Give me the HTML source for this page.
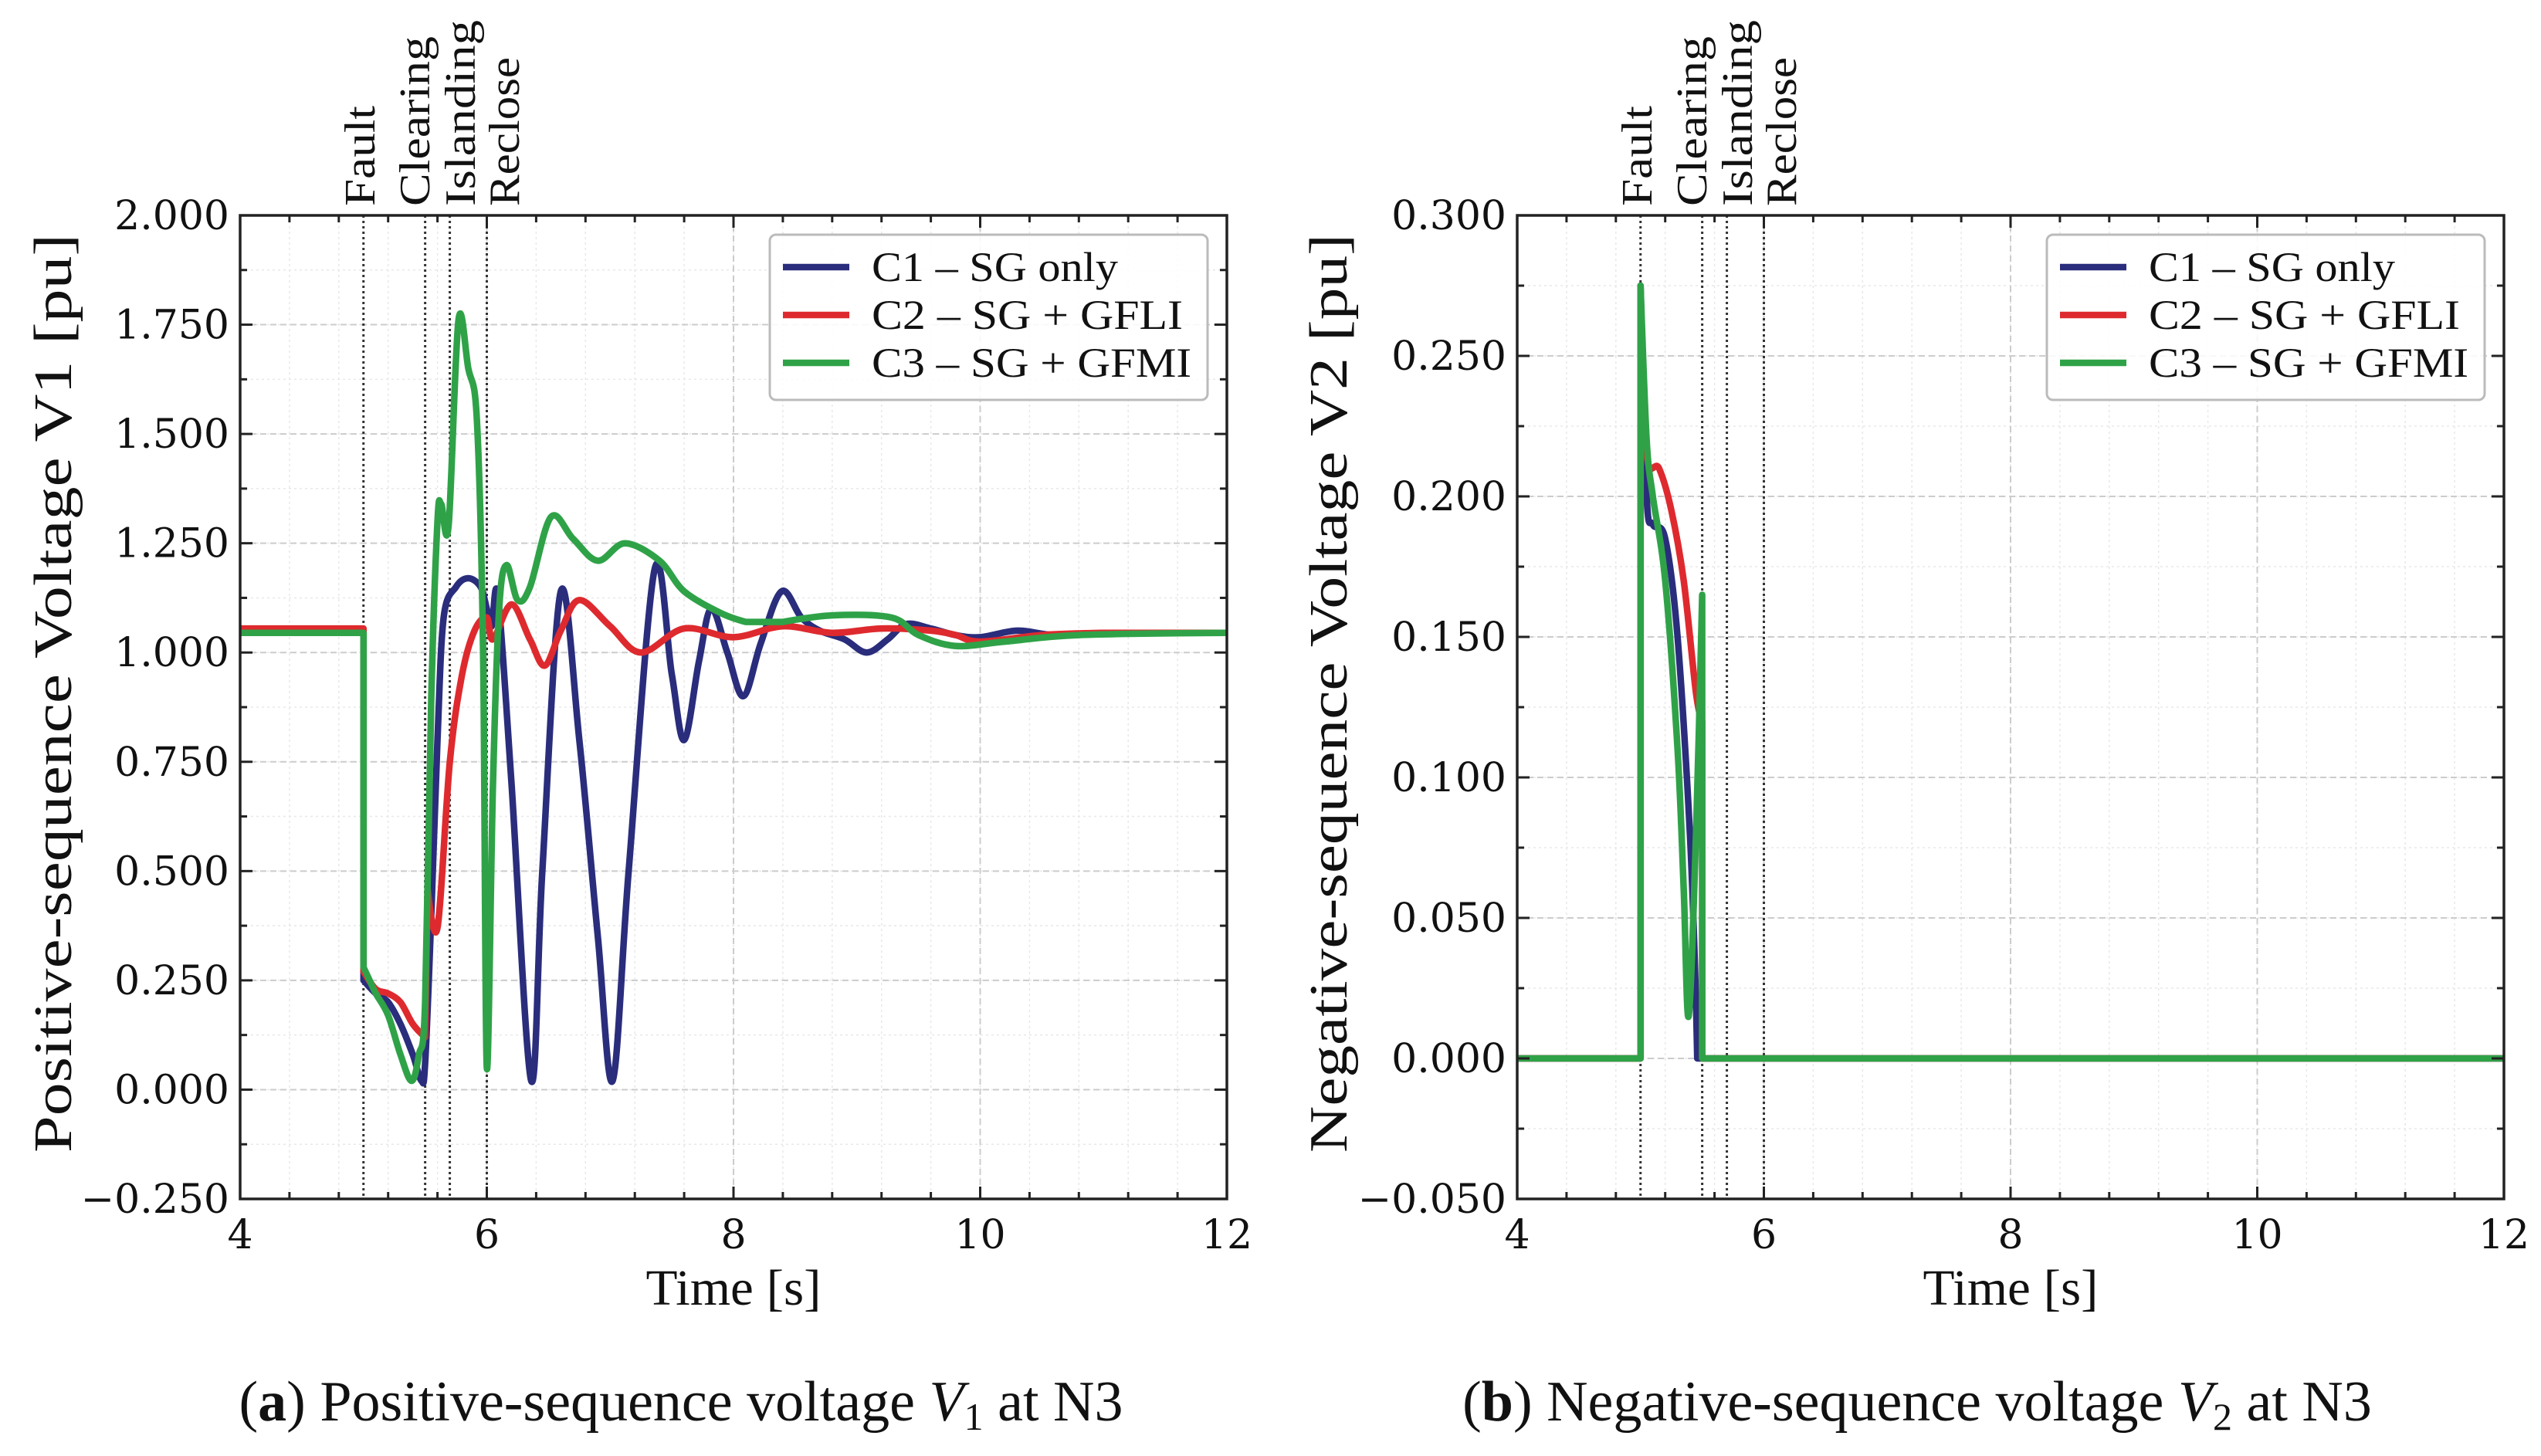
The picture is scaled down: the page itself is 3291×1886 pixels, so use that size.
<!DOCTYPE html>
<html><head><meta charset="utf-8"><style>
html,body{margin:0;padding:0;background:#fff;}
svg{display:block;font-family:"Liberation Serif","DejaVu Serif",serif;}
.num{font-family:"DejaVu Serif","Liberation Serif",serif;}
</style></head><body>
<svg id="fig" width="3291" height="1886" viewBox="0 0 3291 1886" xmlns="http://www.w3.org/2000/svg"></svg>
<script>
// ---- data ----
const xTicks = [4, 6, 8, 10, 12];
const v1Ticks = [-0.25, 0, 0.25, 0.5, 0.75, 1.0, 1.25, 1.5, 1.75, 2.0];
const v2Ticks = [-0.05, 0, 0.05, 0.1, 0.15, 0.2, 0.25, 0.3];
const eventTimes = [5.0, 5.5, 5.7, 6.0];
const eventNames = ["Fault", "Clearing", "Islanding", "Reclose"];
const seriesNames = ["C1 – SG only", "C2 – SG + GFLI", "C3 – SG + GFMI"];

const v1C1t = [4,5.0,5.0,5.1,5.2,5.3,5.4,5.47,5.5,5.55,5.6,5.65,5.75,5.85,5.95,6.0,6.04,6.09,6.2,6.36,6.45,6.6,6.75,6.9,7.02,7.15,7.36,7.5,7.6,7.72,7.82,7.95,8.08,8.22,8.39,8.55,8.7,8.9,9.08,9.25,9.4,9.6,9.8,10.0,10.3,10.6,11,12];
const v1C1v = [1.045,1.045,0.25,0.22,0.2,0.15,0.08,0.02,0.06,0.4,0.8,1.08,1.15,1.17,1.15,1.1,1.06,1.13,0.7,0.02,0.5,1.14,0.8,0.35,0.02,0.5,1.19,0.95,0.8,0.98,1.1,1.0,0.9,1.02,1.14,1.08,1.05,1.03,1.0,1.03,1.065,1.055,1.04,1.035,1.05,1.04,1.045,1.045];
const v1C2t = [4,5.0,5.0,5.1,5.2,5.3,5.4,5.5,5.52,5.6,5.7,5.8,5.9,6.0,6.05,6.2,6.35,6.47,6.6,6.75,7.0,7.25,7.6,8.0,8.4,8.8,9.2,9.6,9.8,10.0,10.5,11,12];
const v1C2v = [1.055,1.055,0.27,0.23,0.22,0.2,0.15,0.12,0.46,0.37,0.75,0.95,1.05,1.08,1.03,1.11,1.03,0.97,1.05,1.12,1.06,1.0,1.055,1.035,1.06,1.045,1.055,1.05,1.04,1.025,1.04,1.045,1.045];
const v1C3t = [4,5.0,5.0,5.05,5.1,5.2,5.3,5.39,5.45,5.5,5.55,5.6,5.63,5.69,5.77,5.85,5.92,5.97,6.0,6.05,6.1,6.16,6.25,6.35,6.52,6.7,6.9,7.12,7.4,7.6,7.9,8.1,8.4,8.8,9.28,9.5,9.8,10.2,10.8,12];
const v1C3v = [1.045,1.045,0.28,0.25,0.22,0.17,0.08,0.02,0.08,0.2,0.9,1.3,1.34,1.29,1.76,1.65,1.53,1.0,0.05,0.7,1.1,1.2,1.12,1.15,1.31,1.26,1.21,1.25,1.21,1.14,1.09,1.07,1.07,1.085,1.08,1.04,1.015,1.025,1.04,1.045];

const v2C1t = [4,5.0,5.0,5.05,5.1,5.2,5.3,5.4,5.45,5.46,12];
const v2C1v = [0,0,0.275,0.2,0.19,0.185,0.15,0.08,0.02,0,0];
const v2C2t = [4,5.0,5.0,5.05,5.15,5.25,5.35,5.45,5.5,5.5,12];
const v2C2v = [0,0,0.27,0.215,0.21,0.195,0.17,0.13,0.12,0,0];
const v2C3t = [4,5.0,5.0,5.05,5.1,5.2,5.3,5.35,5.39,5.45,5.5,5.5,12];
const v2C3v = [0,0,0.275,0.22,0.2,0.17,0.11,0.06,0.015,0.08,0.165,0,0];

const colors = ["#2a2d7c", "#de2a2e", "#2fa248"];
// ---- drawing ----
const NS = "http://www.w3.org/2000/svg";
const svg = document.getElementById("fig");
function mk(tag, attrs, parent) {
  const e = document.createElementNS(NS, tag);
  for (const k in attrs) e.setAttribute(k, attrs[k]);
  (parent || svg).appendChild(e);
  return e;
}
function straight(a, b) {
  return Math.abs(b[0] - a[0]) < 0.5 || Math.abs(b[1] - a[1]) < 0.5 || (b[0] - a[0]) < 4;
}
function smoothPath(P) {
  let d = "M" + P[0][0].toFixed(1) + "," + P[0][1].toFixed(1);
  for (let i = 0; i < P.length - 1; i++) {
    const p1 = P[i], p2 = P[i + 1];
    if (straight(p1, p2)) { d += "L" + p2[0].toFixed(1) + "," + p2[1].toFixed(1); continue; }
    const p0 = P[i - 1], p3 = P[i + 2];
    let c1 = p1, c2 = p2;
    if (p0 && !straight(p0, p1)) c1 = [p1[0] + (p2[0] - p0[0]) / 6, p1[1] + (p2[1] - p0[1]) / 6];
    if (p3 && !straight(p2, p3)) c2 = [p2[0] - (p3[0] - p1[0]) / 6, p2[1] - (p3[1] - p1[1]) / 6];
    d += "C" + c1[0].toFixed(1) + "," + c1[1].toFixed(1) + " " + c2[0].toFixed(1) + "," + c2[1].toFixed(1) + " " + p2[0].toFixed(1) + "," + p2[1].toFixed(1);
  }
  return d;
}
const eventOffsets = [155, 226, 285, 342];
const eventLens = [130, 220, 241, 193];
const legendLens = [319, 403, 414];
function panel(p) {
  const g = mk("g", {});
  
  
  const L = p.left, R = p.left + 1278, T = 279, B = 1553;
  const xs = t => L + (t - 4) / 8 * (R - L);
  const ys = v => B - (v - p.ymin) / (p.ymax - p.ymin) * (B - T);
  for (let t = 4; t <= 12.001; t += 0.4) {
    const gl = mk("line", {x1: xs(t), x2: xs(t), y1: T, y2: B, stroke: "#e8e8e8", "stroke-width": 1.5, "stroke-dasharray": "3 4"}, g);
    
    
  }
  for (let v = p.ymin; v <= p.ymax + 1e-9; v += p.minor) {
    const gl = mk("line", {x1: L, x2: R, y1: ys(v), y2: ys(v), stroke: "#e8e8e8", "stroke-width": 1.5, "stroke-dasharray": "3 4"}, g);
    
    
  }
  xTicks.forEach(t => {
    const gl = mk("line", {x1: xs(t), x2: xs(t), y1: T, y2: B, stroke: "#cccccc", "stroke-width": 2, "stroke-dasharray": "8 5"}, g);
    
    
  });
  p.ticks.forEach(v => {
    const gl = mk("line", {x1: L, x2: R, y1: ys(v), y2: ys(v), stroke: "#cccccc", "stroke-width": 2, "stroke-dasharray": "8 5"}, g);
    
    
  });
  eventTimes.forEach((t, i) => {
    const el = mk("line", {x1: xs(t), x2: xs(t), y1: T, y2: B, stroke: "#333", "stroke-width": 3, "stroke-dasharray": "3 4"}, g);
    
    
    const tx = mk("text", {x: 0, y: 0, "font-size": 56, fill: "#111", textLength: eventLens[i], lengthAdjust: "spacingAndGlyphs", transform: `translate(${L + eventOffsets[i] + 19},${T - 12}) rotate(-90)`}, g);
    tx.textContent = eventNames[i];
    
    
  });
  p.series.forEach((s, i) => {
    const P = s[0].map((t, j) => [xs(t), ys(s[1][j])]);
    const pa = mk("path", {d: smoothPath(P), fill: "none", stroke: colors[i], "stroke-width": 8.5, "stroke-linejoin": "round", "stroke-linecap": "butt"}, g);
    
    
  });
  const fr = mk("rect", {x: L, y: T, width: R - L, height: B - T, fill: "none", stroke: "#222", "stroke-width": 3.5}, g);
  
  
  for (let t = 4; t <= 12.001; t += 0.4) {
    const maj = Math.abs((t - 4) / 2 - Math.round((t - 4) / 2)) < 1e-6;
    const len = maj ? 16 : 9;
    mk("line", {x1: xs(t), x2: xs(t), y1: B, y2: B - len, stroke: "#222", "stroke-width": 3}, g);
    mk("line", {x1: xs(t), x2: xs(t), y1: T, y2: T + len, stroke: "#222", "stroke-width": 3}, g);
  }
  for (let v = p.ymin; v <= p.ymax + 1e-9; v += p.minor) {
    const maj = p.ticks.some(q => Math.abs(q - v) < 1e-9);
    const len = maj ? 16 : 9;
    mk("line", {x1: L, x2: L + len, y1: ys(v), y2: ys(v), stroke: "#222", "stroke-width": 3}, g);
    mk("line", {x1: R, x2: R - len, y1: ys(v), y2: ys(v), stroke: "#222", "stroke-width": 3}, g);
  }
  xTicks.forEach(t => {
    const tx = mk("text", {x: xs(t), y: B + 64, "font-size": 52, "text-anchor": "middle", fill: "#111", class: "num"}, g);
    tx.textContent = t;
    
    
  });
  p.ticks.forEach(v => {
    const tx = mk("text", {x: L - 14, y: ys(v) + 18, "font-size": 52, "text-anchor": "end", fill: "#111", class: "num"}, g);
    tx.textContent = (v < 0 ? "−" : "") + Math.abs(v).toFixed(3);
    
    
  });
  const xt = mk("text", {x: (L + R) / 2, y: 1690, "font-size": 66, "text-anchor": "middle", fill: "#111", textLength: 227, lengthAdjust: "spacingAndGlyphs"}, g);
  xt.textContent = "Time [s]";
  
  
  const yt = mk("text", {x: 0, y: 0, "font-size": 70, "text-anchor": "middle", fill: "#111", textLength: 1190, lengthAdjust: "spacingAndGlyphs", transform: `translate(${p.ytx},${(T + B) / 2 - 18}) rotate(-90)`}, g);
  yt.textContent = p.ytitle;
  
  
  const lg = mk("g", {}, g);
  
  
  const lx = L + 686;
  mk("rect", {x: lx, y: 304, width: 567, height: 214, rx: 8, fill: "#fff", "fill-opacity": 0.85, stroke: "#bbb", "stroke-width": 3}, lg);
  seriesNames.forEach((n, i) => {
    const y = 346 + i * 62;
    const ln = mk("line", {x1: lx + 17, x2: lx + 103, y1: y, y2: y, stroke: colors[i], "stroke-width": 8.5}, lg);
    
    
    const tx = mk("text", {x: lx + 132, y: y + 18, "font-size": 54, fill: "#111", textLength: legendLens[i], lengthAdjust: "spacingAndGlyphs"}, lg);
    tx.textContent = n;
    
    
  });
  const cp = mk("text", {x: p.capx, y: 1840, "font-size": 74, "text-anchor": "middle", fill: "#111"}, g);
  cp.innerHTML = p.caption;
  
  
}
panel({name: "panel-v1", left: 311, ymin: -0.25, ymax: 2.0, minor: 0.125, ticks: v1Ticks, ytx: 92,
  ytitle: "Positive-sequence Voltage V1 [pu]",
  series: [[v1C1t, v1C1v], [v1C2t, v1C2v], [v1C3t, v1C3v]], capx: 882,
  caption: '(<tspan font-weight="bold">a</tspan>) Positive-sequence voltage <tspan font-style="italic">V</tspan><tspan font-size="50" dy="12">1</tspan><tspan dy="-12"> at N3</tspan>'});
panel({name: "panel-v2", left: 1965, ymin: -0.05, ymax: 0.3, minor: 0.025, ticks: v2Ticks, ytx: 1744,
  ytitle: "Negative-sequence Voltage V2 [pu]",
  series: [[v2C1t, v2C1v], [v2C2t, v2C2v], [v2C3t, v2C3v]], capx: 2483,
  caption: '(<tspan font-weight="bold">b</tspan>) Negative-sequence voltage <tspan font-style="italic">V</tspan><tspan font-size="50" dy="12">2</tspan><tspan dy="-12"> at N3</tspan>'});
</script>
</body></html>
